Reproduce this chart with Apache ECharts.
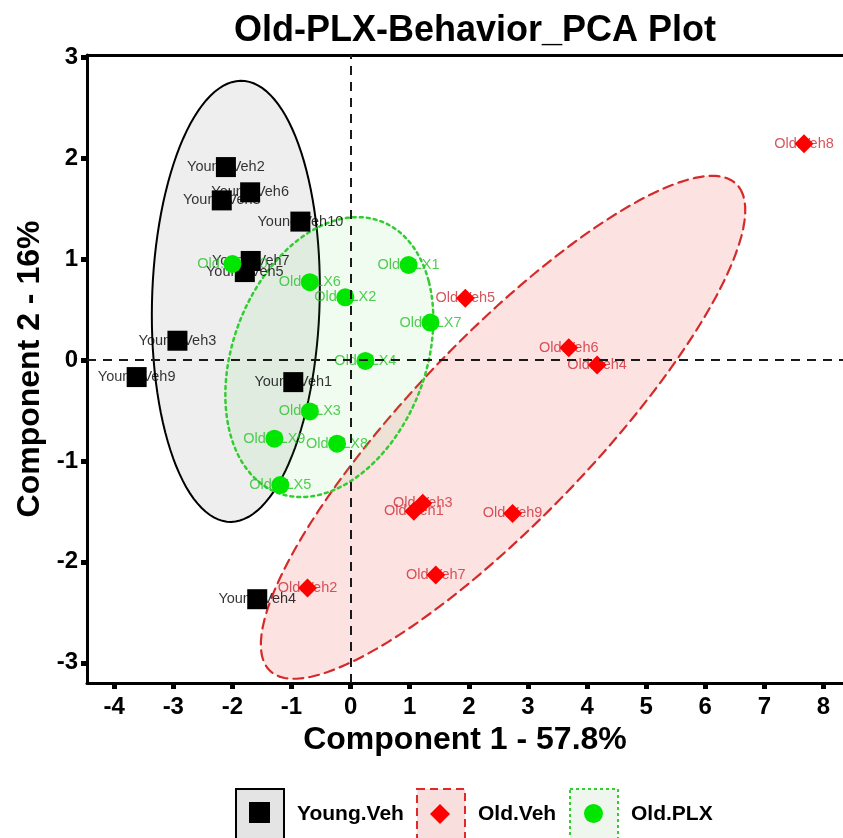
<!DOCTYPE html>
<html>
<head>
<meta charset="utf-8">
<title>Old-PLX-Behavior_PCA Plot</title>
<script src="https://cdn.jsdelivr.net/npm/echarts@6/dist/echarts.min.js"></script>
<style>
html,body{margin:0;padding:0;background:#fff;}
#main{width:843px;height:838px;}
</style>
</head>
<body>
<div id="main"></div>
<script>
// PCA scores, one array per group
var youngNames = ['Young.Veh1','Young.Veh2','Young.Veh3','Young.Veh4','Young.Veh5','Young.Veh6','Young.Veh7','Young.Veh8','Young.Veh9','Young.Veh10'];
var youngX = [-0.97, -2.11, -2.93, -1.58, -1.79, -1.70, -1.69, -2.18, -3.62, -0.85];
var youngY = [-0.22, 1.91, 0.19, -2.37, 0.87, 1.66, 0.98, 1.58, -0.17, 1.37];

var oldVehNames = ['Old.Veh1','Old.Veh2','Old.Veh3','Old.Veh4','Old.Veh5','Old.Veh6','Old.Veh7','Old.Veh8','Old.Veh9'];
var oldVehX = [1.07, -0.73, 1.22, 4.17, 1.94, 3.69, 1.44, 7.67, 2.74];
var oldVehY = [-1.50, -2.26, -1.42, -0.05, 0.61, 0.12, -2.13, 2.14, -1.52];

var plxNames = ['Old.PLX1','Old.PLX2','Old.PLX3','Old.PLX4','Old.PLX5','Old.PLX6','Old.PLX7','Old.PLX8','Old.PLX9','Old.PLX10'];
var plxX = [0.98, -0.09, -0.69, 0.25, -1.19, -0.69, 1.35, -0.23, -1.29, -2.00];
var plxY = [0.94, 0.62, -0.51, -0.01, -1.24, 0.77, 0.37, -0.83, -0.78, 0.95];

var xTicks = [-4,-3,-2,-1,0,1,2,3,4,5,6,7,8];
var yTicks = [-3,-2,-1,0,1,2,3];

var FONT = '"Liberation Sans", Arial, sans-serif';
var ELLIPSE_K = 1.7;

var groups = [
	{name:'Young.Veh', x:youngX, y:youngY, fill:'rgba(150,150,150,0.16)', stroke:'#000000', dash:null, width:2},
	{name:'Old.Veh', x:oldVehX, y:oldVehY, fill:'rgba(240,60,60,0.15)', stroke:'#d42a2a', dash:[10,6], width:2.2},
	{name:'Old.PLX', x:plxX, y:plxY, fill:'rgba(60,220,60,0.08)', stroke:'#33cc33', dash:[3,4], width:2.5}
];

// covariance ellipse of a group, in data units
function ellipsePoints(xs, ys, k){
	var n = xs.length, mx = 0, my = 0, sxx = 0, syy = 0, sxy = 0;
	for (var i = 0; i < n; i++) { mx += xs[i]; my += ys[i]; }
	mx /= n; my /= n;
	for (var i = 0; i < n; i++) {
		sxx += (xs[i]-mx)*(xs[i]-mx);
		syy += (ys[i]-my)*(ys[i]-my);
		sxy += (xs[i]-mx)*(ys[i]-my);
	}
	sxx /= (n-1); syy /= (n-1); sxy /= (n-1);
	var tr = sxx + syy, det = sxx*syy - sxy*sxy;
	var d = Math.sqrt(Math.max(tr*tr/4 - det, 0));
	var l1 = tr/2 + d, l2 = Math.max(tr/2 - d, 0);
	var a = Math.atan2(l1 - sxx, sxy);
	var r1 = k*Math.sqrt(l1), r2 = k*Math.sqrt(l2);
	var pts = [];
	for (var s = 0; s < 120; s++) {
		var t = s/120*Math.PI*2;
		pts.push([
			mx + r1*Math.cos(t)*Math.cos(a) - r2*Math.sin(t)*Math.sin(a),
			my + r1*Math.cos(t)*Math.sin(a) + r2*Math.sin(t)*Math.cos(a)
		]);
	}
	return pts;
}

function toData(names, xs, ys){
	var out = [];
	for (var i = 0; i < names.length; i++) out.push({name:names[i], value:[xs[i], ys[i]]});
	return out;
}

function labelSeries(names, xs, ys, color){
	return {
		type:'scatter', z:2, silent:true,
		symbolSize:1, itemStyle:{color:'rgba(0,0,0,0)'},
		label:{show:true, position:'inside', formatter:'{b}', color:color, fontFamily:FONT, fontSize:14.5},
		data:toData(names, xs, ys)
	};
}

function boxLegend(left, name, fill, border, type){
	return {
		left:left, top:788, padding:0, itemWidth:48, itemHeight:50, selectedMode:false,
		data:[{name:name, icon:'rect', itemStyle:{color:fill, borderColor:border, borderWidth:2, borderType:type}}],
		textStyle:{fontFamily:FONT, fontWeight:'bold', fontSize:21, color:'#000', padding:[0,0,0,8]}
	};
}
function markLegend(left, top, size, name, icon){
	return {
		left:left, top:top, padding:0, itemWidth:size, itemHeight:size, selectedMode:false,
		data:[{name:name, icon:icon}],
		formatter:function(){ return ''; }
	};
}

var chart = echarts.init(document.getElementById('main'));

var option = {
	backgroundColor:'#fff',
	animation:false,
	title:{
		text:'Old-PLX-Behavior_PCA Plot', left:470, top:8, textAlign:'center',
		textStyle:{fontFamily:FONT, fontWeight:'bold', fontSize:36, color:'#000'}
	},
	grid:{left:87, right:0, top:55, bottom:155},
	legend:[
		boxLegend(235, 'Young.Veh', '#e4e4e4', '#000', 'solid'),
		boxLegend(416, 'Old.Veh', '#f9dede', '#e02a2a', [8,5]),
		boxLegend(569, 'Old.PLX', '#eef6ee', '#33cc33', [3,3]),
		markLegend(249, 802, 21, 'Young.Veh', 'rect'),
		markLegend(430, 804, 20, 'Old.Veh', 'diamond'),
		markLegend(584, 804, 19, 'Old.PLX', 'circle')
	],
	xAxis:[{
		type:'value', min:-4.46, max:8.33,
		name:'Component 1 - 57.8%', nameLocation:'middle', nameGap:41,
		nameTextStyle:{fontFamily:FONT, fontWeight:'bold', fontSize:32, color:'#000'},
		axisLine:{onZero:false, lineStyle:{color:'#000', width:3}},
		axisTick:{customValues:xTicks, length:6, lineStyle:{color:'#000', width:5}},
		axisLabel:{customValues:xTicks, margin:12, fontFamily:FONT, fontWeight:'bold', fontSize:24, color:'#000'},
		splitLine:{show:false}
	},{
		type:'value', position:'top', min:-4.46, max:8.33,
		axisLine:{onZero:false, lineStyle:{color:'#000', width:3}},
		axisTick:{show:false}, axisLabel:{show:false}, splitLine:{show:false}
	}],
	yAxis:{
		type:'value', min:-3.2, max:3.02,
		name:'Component 2 - 16%', nameLocation:'middle', nameGap:38,
		nameTextStyle:{fontFamily:FONT, fontWeight:'bold', fontSize:32, color:'#000'},
		axisLine:{onZero:false, lineStyle:{color:'#000', width:3}},
		axisTick:{customValues:yTicks, length:6, lineStyle:{color:'#000', width:5}},
		axisLabel:{customValues:yTicks, margin:9, fontFamily:FONT, fontWeight:'bold', fontSize:24, color:'#000'},
		splitLine:{show:false}
	},
	series:[
		{
			type:'custom', name:'ellipses', z:1, silent:true, clip:true,
			data:[[0,0],[1,0],[2,0]],
			renderItem:function(params, api){
				var g = groups[api.value(0)];
				var pts = ellipsePoints(g.x, g.y, ELLIPSE_K).map(function(p){ return api.coord(p); });
				return {
					type:'polygon', shape:{points:pts},
					style:{fill:g.fill, stroke:g.stroke, lineWidth:g.width, lineDash:g.dash, lineCap:'round'}
				};
			}
		},
		// zero lines
		{
			type:'scatter', z:2, silent:true, data:[],
			markLine:{
				silent:true, symbol:'none', label:{show:false}, animation:false,
				lineStyle:{type:[9,7], color:'#1a1a1a', width:2},
				data:[{xAxis:0},{yAxis:0}]
			}
		},
		labelSeries(youngNames, youngX, youngY, '#000'),
		labelSeries(oldVehNames, oldVehX, oldVehY, '#cc2a35'),
		labelSeries(plxNames, plxX, plxY, '#28c028'),
		{
			type:'scatter', name:'Young.Veh', z:3, symbol:'rect', symbolSize:20,
			itemStyle:{color:'#000', opacity:1}, data:toData(youngNames, youngX, youngY)
		},
		{
			type:'scatter', name:'Old.Veh', z:3, symbol:'diamond', symbolSize:19,
			itemStyle:{color:'#ff0000', opacity:1}, data:toData(oldVehNames, oldVehX, oldVehY)
		},
		{
			type:'scatter', name:'Old.PLX', z:3, symbol:'circle', symbolSize:18,
			itemStyle:{color:'#00e600', opacity:1}, data:toData(plxNames, plxX, plxY)
		}
	]
};
chart.setOption(option);
</script>
</body>
</html>
